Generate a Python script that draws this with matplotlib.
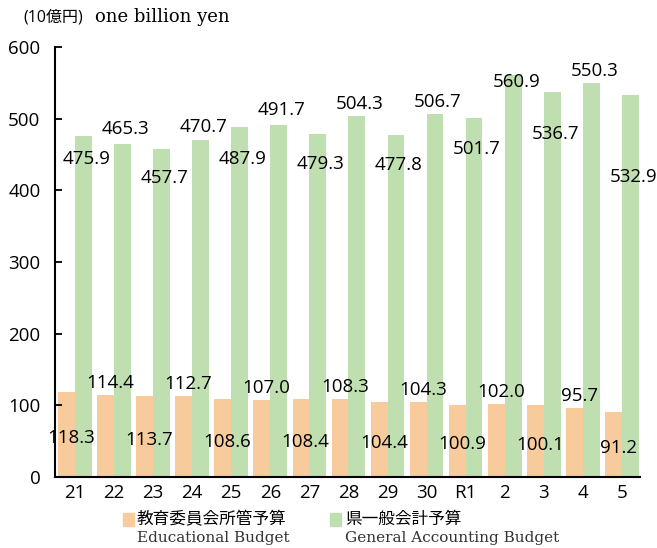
import matplotlib.pyplot as plt
import numpy as np
from matplotlib.patches import Rectangle

plt.rcParams['font.family'] = ['Open Sans', 'Noto Sans CJK JP', 'DejaVu Sans']

years = ["21", "22", "23", "24", "25", "26", "27", "28", "29", "30", "R1", "2", "3", "4", "5"]
edu_budget = [118.3, 114.4, 113.7, 112.7, 108.6, 107.0, 108.4, 108.3, 104.4, 104.3, 100.9, 102.0, 100.1, 95.7, 91.2]
gen_budget = [475.9, 465.3, 457.7, 470.7, 487.9, 491.7, 479.3, 504.3, 477.8, 506.7, 501.7, 560.9, 536.7, 550.3, 532.9]

# label shift from the bar top (data units), roughly as placed in the source
gen_shift = [-32, 21, -41, 18, -44, 21, -42, 17, -43, 17, -44, -10, -58, 17, -114]

c_edu = "#f8cb9c"
c_gen = "#c0dfb0"
fs = 13.5

fig = plt.figure(figsize=(6.57, 5.48), dpi=100)
ax = fig.add_axes([0.0837, 0.1296, 0.8903, 0.7844])

x = np.arange(len(years))
w = 0.43
ax.bar(x - w / 2, edu_budget, w, color=c_edu)
ax.bar(x + w / 2, gen_budget, w, color=c_gen)

for i in range(len(years)):
    v = edu_budget[i]
    ly = v / 2 - 5 if i % 2 == 0 else v + 17
    ax.text(x[i] - w / 2 + 0.12, ly, f"{v:.1f}", ha="center", va="center", fontsize=fs)
    g = gen_budget[i]
    ax.text(x[i] + w / 2 + 0.08, g + gen_shift[i], f"{g:.1f}", ha="center", va="center", fontsize=fs)

ax.set_xlim(-0.51, 14.46)
ax.set_ylim(0, 600)
ax.set_yticks([0, 100, 200, 300, 400, 500, 600])
ax.set_xticks(x)
ax.set_xticklabels(years)
ax.tick_params(axis="y", direction="in", length=5, width=1.3, pad=10.5, labelsize=fs)
ax.tick_params(axis="x", length=0, pad=5, labelsize=fs)
for s in ["top", "right"]:
    ax.spines[s].set_visible(False)
for s in ["left", "bottom"]:
    ax.spines[s].set_linewidth(1.5)

# unit label
fig.text(23 / 657, 1 - 17 / 548, "(10億円)", fontsize=11.5, va="center", ha="left")
fig.text(95 / 657, 1 - 17 / 548, "one billion yen", fontsize=13, va="center", ha="left",
         family="DejaVu Serif")

# legend
fig.patches.append(Rectangle((123 / 657, 1 - 526 / 548), 11 / 657, 13 / 548,
                             transform=fig.transFigure, color=c_edu))
fig.text(137 / 657, 1 - 520 / 548, "教育委員会所管予算", fontsize=12, va="center")
fig.text(137 / 657, 1 - 538 / 548, "Educational Budget", fontsize=11, va="center",
         family="DejaVu Serif", color="#333333")
fig.patches.append(Rectangle((330 / 657, 1 - 526 / 548), 11 / 657, 13 / 548,
                             transform=fig.transFigure, color=c_gen))
fig.text(345 / 657, 1 - 520 / 548, "県一般会計予算", fontsize=12, va="center")
fig.text(345 / 657, 1 - 538 / 548, "General Accounting Budget", fontsize=11, va="center",
         family="DejaVu Serif", color="#333333")

fig.savefig("out.png", dpi=100)
